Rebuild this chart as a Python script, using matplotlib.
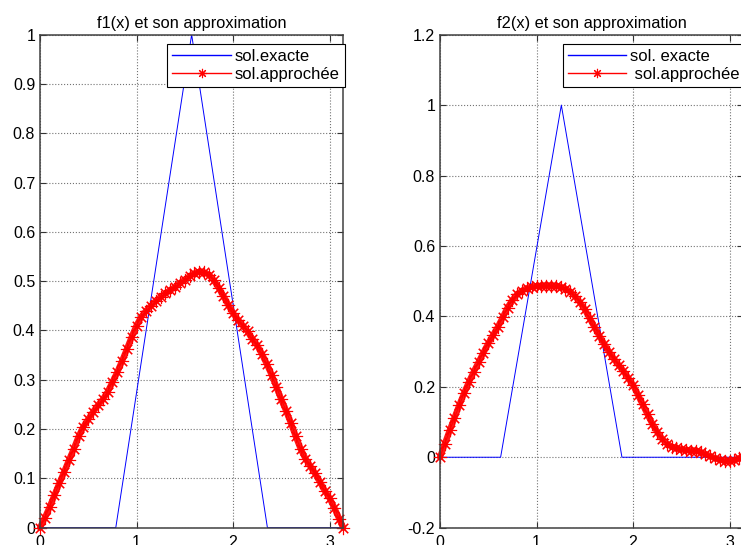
import numpy as np
import matplotlib
matplotlib.use("Agg")
import matplotlib.pyplot as plt
from matplotlib.ticker import FuncFormatter

plt.rcParams['font.family'] = ['Liberation Sans', 'DejaVu Sans']

# ---------------- data ----------------
# exact solutions (triangles)
x_ex1 = [0, 0.785, 1.571, 2.356, 3.1416]
y_ex1 = [0, 0, 1, 0, 0]
x_ex2 = [0, 0.628, 1.257, 1.885, 3.1416]
y_ex2 = [0, 0, 1, 0, 0]

# approximations, sampled every 0.05 (last point at pi)
x_app = [0.00, 0.05, 0.10, 0.15, 0.20, 0.25, 0.30, 0.35, 0.40, 0.45,
         0.50, 0.55, 0.60, 0.65, 0.70, 0.75, 0.80, 0.85, 0.90, 0.95,
         1.00, 1.05, 1.10, 1.15, 1.20, 1.25, 1.30, 1.35, 1.40, 1.45,
         1.50, 1.55, 1.60, 1.65, 1.70, 1.75, 1.80, 1.85, 1.90, 1.95,
         2.00, 2.05, 2.10, 2.15, 2.20, 2.25, 2.30, 2.35, 2.40, 2.45,
         2.50, 2.55, 2.60, 2.65, 2.70, 2.75, 2.80, 2.85, 2.90, 2.95,
         3.00, 3.05, 3.10, 3.1416]
y_app1 = [0.000, 0.020, 0.042, 0.066, 0.090, 0.113, 0.137, 0.160, 0.185, 0.205,
          0.220, 0.235, 0.248, 0.260, 0.275, 0.295, 0.315, 0.338, 0.362, 0.387,
          0.410, 0.428, 0.440, 0.450, 0.460, 0.468, 0.475, 0.482, 0.488, 0.496,
          0.503, 0.510, 0.516, 0.519, 0.518, 0.513, 0.502, 0.487, 0.470, 0.452,
          0.435, 0.422, 0.410, 0.398, 0.383, 0.370, 0.352, 0.332, 0.310, 0.285,
          0.260, 0.237, 0.212, 0.185, 0.160, 0.140, 0.125, 0.110, 0.093, 0.075,
          0.060, 0.040, 0.018, 0.000]
y_app2 = [0.000, 0.038, 0.076, 0.112, 0.148, 0.182, 0.214, 0.243, 0.270, 0.297,
          0.323, 0.347, 0.370, 0.397, 0.425, 0.446, 0.463, 0.473, 0.480, 0.484,
          0.486, 0.487, 0.487, 0.487, 0.486, 0.484, 0.479, 0.470, 0.457, 0.440,
          0.420, 0.395, 0.370, 0.345, 0.322, 0.300, 0.280, 0.262, 0.245, 0.225,
          0.205, 0.178, 0.150, 0.122, 0.095, 0.072, 0.053, 0.039, 0.030, 0.025,
          0.022, 0.020, 0.019, 0.018, 0.015, 0.009, 0.003, -0.003, -0.007, -0.010,
          -0.011, -0.008, -0.003, 0.000]

titles = ['f1(x) et son approximation', 'f2(x) et son approximation']
labels1 = ['sol.exacte', 'sol.approchée']
labels2 = ['sol. exacte', ' sol.approchée']
yticks1 = np.arange(0, 11) / 10
yticks2 = np.arange(-1, 7) / 5
xticks = [0, 1, 2, 3]

fig = plt.figure(figsize=(7.41, 5.45), dpi=100)
ax1 = fig.add_axes([0.054, 0.0318, 0.4092, 0.9046])
ax2 = fig.add_axes([0.5938, 0.0318, 0.4092, 0.9046])

fmt = FuncFormatter(lambda v, p: '%g' % round(v, 2))
asterisk = (8, 2, 0)


def draw(ax, xe, ye, ya, ylim, yticks, title, labels):
    ax.plot(xe, ye, color='b', lw=0.7, label=labels[0])
    # thick band under the dense stars
    ax.plot(x_app, ya, color='r', lw=4.5, alpha=0.9, solid_capstyle='round',
            clip_on=False)
    ax.plot(x_app, ya, color='r', lw=0.7, marker=asterisk, ms=9.5, mew=0.8,
            label=labels[1], clip_on=False)
    ax.set_xlim(0, np.pi)
    ax.set_ylim(*ylim)
    ax.set_xticks(xticks)
    ax.set_yticks(yticks)
    ax.yaxis.set_major_formatter(fmt)
    ax.grid(True, linestyle=':', color='0.45', lw=0.8)
    ax.tick_params(direction='in', top=True, right=True, length=4,
                   labelsize=11.5, color='0.2')
    ax.tick_params(axis='x', pad=5)
    ax.tick_params(axis='y', pad=3.5)
    for s in ax.spines.values():
        s.set_color('0.25')
        s.set_linewidth(1.1)
    ax.set_title(title, fontsize=11.8, pad=5)
    leg = ax.legend(loc='upper right', bbox_to_anchor=(1.005, 0.981),
                    borderaxespad=0, fontsize=12, fancybox=False,
                    framealpha=1, edgecolor='k', handlelength=3.5,
                    handletextpad=0.25, labelspacing=0.15, borderpad=0.3,
                    markerscale=0.7)
    leg.get_frame().set_linewidth(0.8)
    for ln, c in zip(leg.get_lines(), ['b', 'r']):
        ln.set_color(c)
        ln.set_linewidth(1.0)


draw(ax1, x_ex1, y_ex1, y_app1, (0, 1), yticks1, titles[0], labels1)
draw(ax2, x_ex2, y_ex2, y_app2, (-0.2, 1.2), yticks2, titles[1], labels2)

fig.savefig('out.png', dpi=100)
